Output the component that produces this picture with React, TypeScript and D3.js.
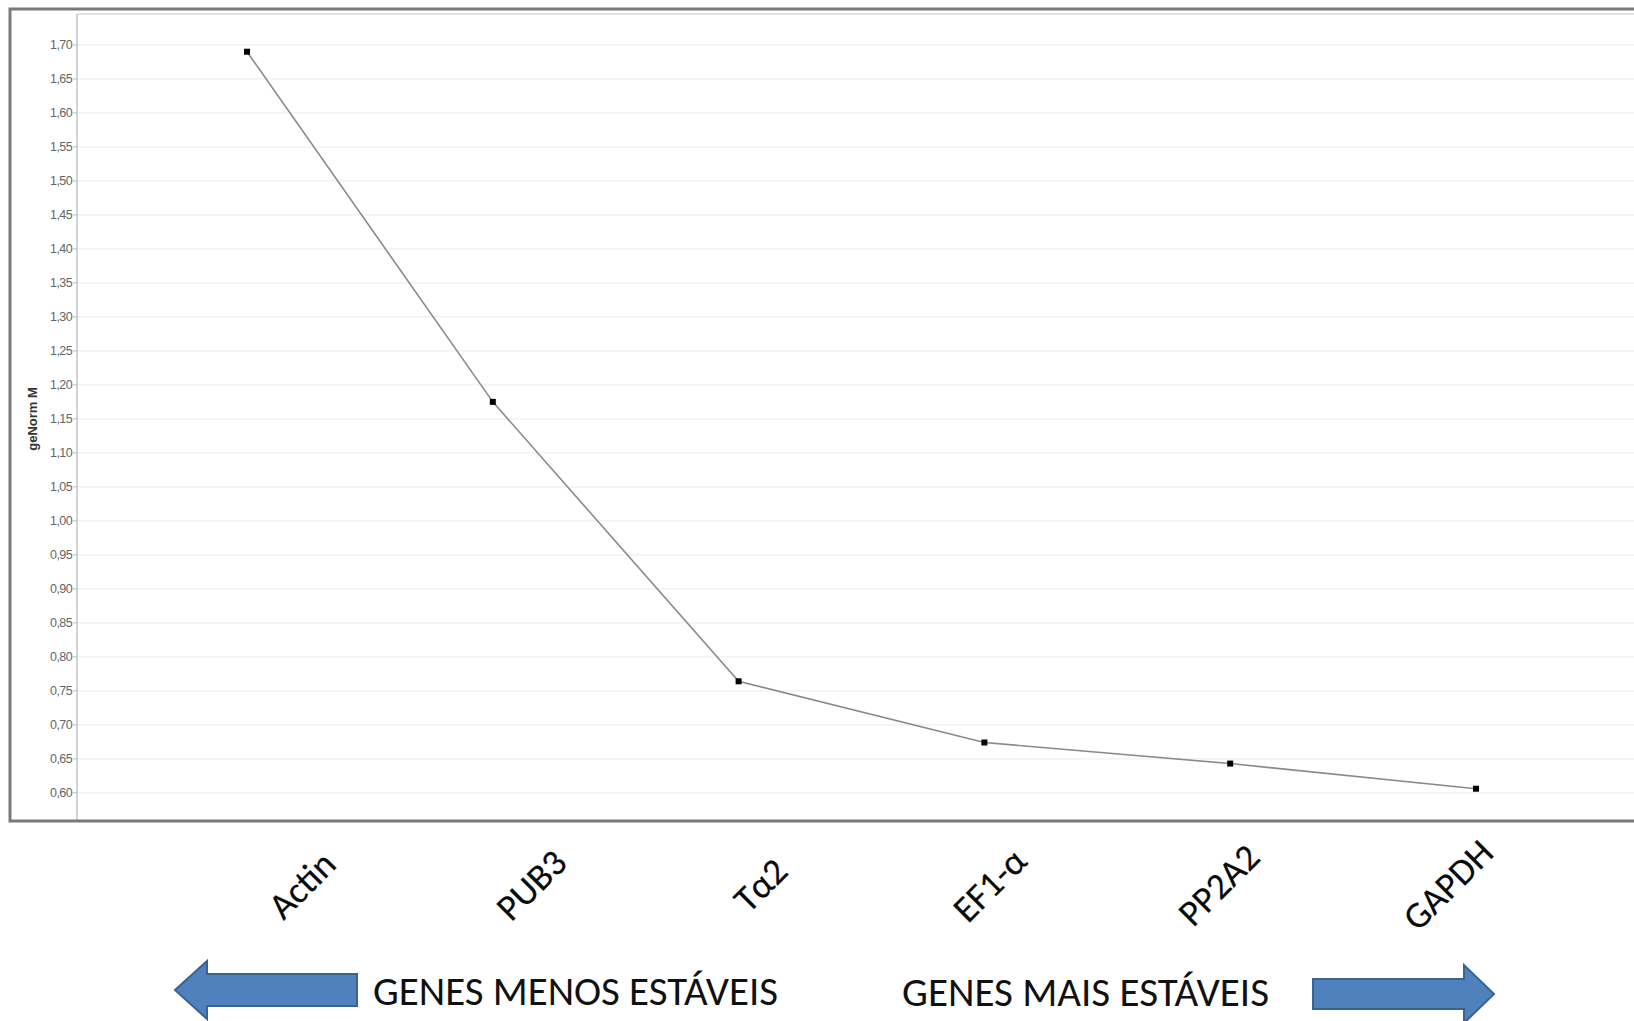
import React from "react";
import * as d3 from "d3";

// geNorm average expression stability (M) per reference gene, least to most stable
const genes: string[] = ["Actin", "PUB3", "Tα2", "EF1-α", "PP2A2", "GAPDH"];
const mValues: number[] = [1.69, 1.175, 0.764, 0.674, 0.643, 0.606];
const yTicks: number[] = [
  0.6, 0.65, 0.7, 0.75, 0.8, 0.85, 0.9, 0.95, 1.0, 1.05, 1.1, 1.15, 1.2, 1.25,
  1.3, 1.35, 1.4, 1.45, 1.5, 1.55, 1.6, 1.65, 1.7,
];
const yTitle = "geNorm M";
const leftCaption = "GENES MENOS ESTÁVEIS";
const rightCaption = "GENES MAIS ESTÁVEIS";

const W = 1634;
const H = 1021;

// plot frame
const frameLeft = 10;
const frameTop = 9;
const frameBottom = 821;
const axisX = 77;
const plotTop = 15;
const plotBottom = 820;

const labelFont = "Carlito, Calibri, Lato, 'Open Sans', sans-serif";

function arrowPath(tipX: number, baseX: number, endX: number, cy: number, bodyHalf: number, headHalf: number) {
  const p = d3.path();
  p.moveTo(tipX, cy);
  p.lineTo(baseX, cy - headHalf);
  p.lineTo(baseX, cy - bodyHalf);
  p.lineTo(endX, cy - bodyHalf);
  p.lineTo(endX, cy + bodyHalf);
  p.lineTo(baseX, cy + bodyHalf);
  p.lineTo(baseX, cy + headHalf);
  p.closePath();
  return p.toString();
}

export default function App() {
  const y = d3.scaleLinear().domain([0.56, 1.744]).range([plotBottom, plotTop]);
  const x = d3.scalePoint<string>().domain(genes).range([247, 1476]);
  const xLabel = d3.scalePoint<string>().domain(genes).range([302, 1448]);
  const fmt = (v: number) => d3.format(".2f")(v).replace(".", ",");

  const pts = genes.map((g, i) => [x(g) as number, y(mValues[i])] as [number, number]);
  const line = d3.line<[number, number]>().curve(d3.curveLinear)(pts) || "";

  return (
    <svg
      width={W}
      height={H}
      viewBox={`0 0 ${W} ${H}`}
      style={{ position: "absolute", left: 0, top: 0, background: "#fff", display: "block" }}
    >
      <rect x={0} y={0} width={W} height={H} fill="#fff" />

      {/* gridlines */}
      {yTicks.map((t) => (
        <line key={"g" + t} x1={axisX} x2={W} y1={y(t)} y2={y(t)} stroke="#f0f0f0" strokeWidth={1.2} />
      ))}

      {/* inner panel top edge and value axis */}
      <line x1={axisX} x2={W} y1={plotTop - 1} y2={plotTop - 1} stroke="#e2e2e2" strokeWidth={2} />
      <line x1={axisX} x2={axisX} y1={plotTop - 1} y2={plotBottom} stroke="#c4c4c4" strokeWidth={1.5} />

      {/* y ticks and labels */}
      {yTicks.map((t) => (
        <g key={"t" + t} transform={`translate(0,${y(t)})`}>
          <line x1={axisX - 4} x2={axisX} stroke="#bbb" strokeWidth={1} />
          <text
            x={axisX - 5}
            dy="0.35em"
            textAnchor="end"
            fontFamily="'Liberation Sans', Arial, sans-serif"
            fontSize={12.5}
            fill="#666"
            letterSpacing={-0.6}
          >
            {fmt(t)}
          </text>
        </g>
      ))}

      <text
        transform={`translate(32,419) rotate(-90)`}
        textAnchor="middle"
        dy="0.35em"
        fontFamily="'Liberation Sans', Arial, sans-serif"
        fontWeight="bold"
        fontSize={13}
        fill="#333"
      >
        {yTitle}
      </text>

      {/* series */}
      <path d={line} fill="none" stroke="#8a8a8a" strokeWidth={1.6} />
      {pts.map(([px, py], i) => (
        <rect key={"m" + i} x={px - 3} y={py - 3} width={6} height={6} fill="#000" />
      ))}

      {/* outer frame (open on the right) */}
      <path
        d={`M${W + 10},${frameTop} L${frameLeft},${frameTop} L${frameLeft},${frameBottom} L${W + 10},${frameBottom}`}
        fill="none"
        stroke="#7a7a7a"
        strokeWidth={3}
      />

      {/* gene labels */}
      {genes.map((g) => (
        <text
          key={"l" + g}
          transform={`translate(${xLabel(g)},885) rotate(-45)`}
          textAnchor="middle"
          dominantBaseline="central"
          fontFamily={labelFont}
          fontSize={37}
          fill="#0a0a0a"
          stroke="#0a0a0a"
          strokeWidth={0.15}
        >
          {g}
        </text>
      ))}

      {/* stability arrows and captions */}
      <path
        d={arrowPath(175, 207, 357, 990, 16, 29)}
        fill="#4f81bd"
        stroke="#3a6393"
        strokeWidth={2}
      />
      <text
        x={373}
        y={1005}
        fontFamily={labelFont}
        fontSize={41}
        fill="#111"
        textLength={405}
        lengthAdjust="spacingAndGlyphs"
      >
        {leftCaption}
      </text>
      <text
        x={902}
        y={1006}
        fontFamily={labelFont}
        fontSize={41}
        fill="#111"
        textLength={367}
        lengthAdjust="spacingAndGlyphs"
      >
        {rightCaption}
      </text>
      <path
        d={arrowPath(1494, 1464, 1313, 994, 15, 29)}
        fill="#4f81bd"
        stroke="#3a6393"
        strokeWidth={2}
      />
    </svg>
  );
}
